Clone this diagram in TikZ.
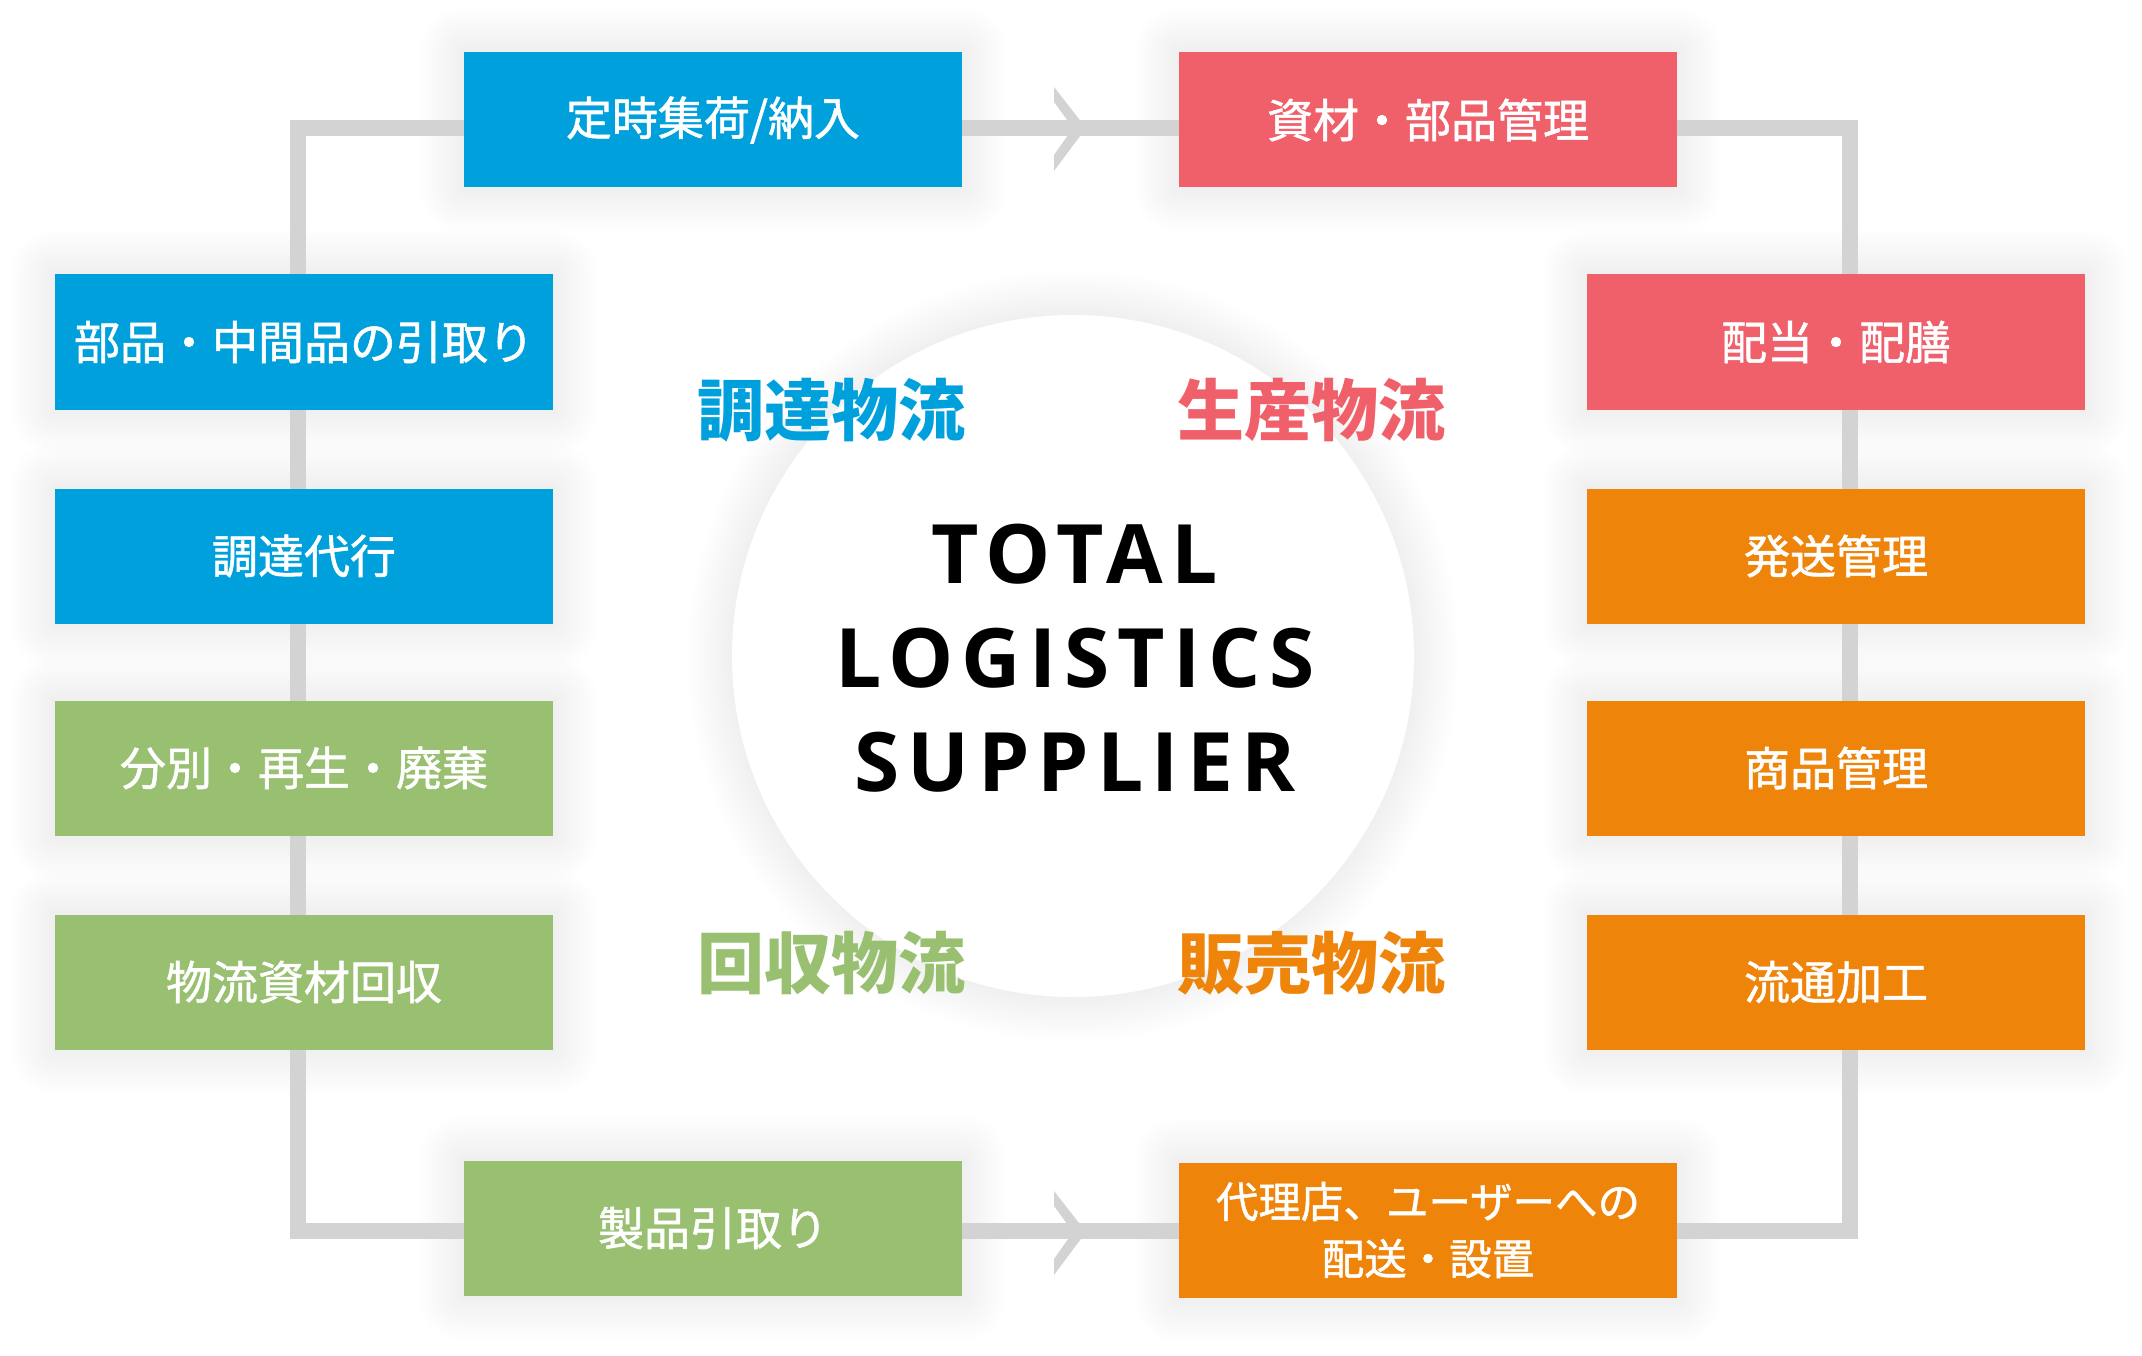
\documentclass[tikz,border=0pt]{standalone}
\usepackage{fontspec}
\usetikzlibrary{backgrounds,calc}
\newfontfamily\jp{Noto Sans CJK JP}
\newfontfamily\jpm{Noto Sans CJK JP}[FakeBold=1.2]
\newfontfamily\en{Open Sans}[LetterSpace=10]
\definecolor{cblue}{RGB}{0,160,220}
\definecolor{cred}{RGB}{240,96,106}
\definecolor{corange}{RGB}{238,132,10}
\definecolor{cgreen}{RGB}{152,192,112}
\definecolor{cline}{RGB}{211,211,211}
\tikzset{
  box/.style={rectangle, minimum width=498pt, minimum height=135pt, inner sep=0pt, text=white, align=center, font=\jpm\fontsize{46}{57}\selectfont},
  cat/.style={font=\jp\bfseries\fontsize{67}{70}\selectfont, inner sep=0pt},
  conn/.style={draw=cline, line width=16pt},
  chev/.style={fill=cline},
  halo/.style={fill=black, opacity=0.0045}
}
\begin{document}
\begin{tikzpicture}[x=1pt,y=-1pt]
\useasboundingbox (0,0) rectangle (2142,1356);
% center circle
\node[circle, fill=white, minimum size=682pt, inner sep=0pt] (hub) at (1073,656) {};
% loop corners
\coordinate (tl) at (298,128);
\coordinate (tr) at (1850,128);
\coordinate (br) at (1850,1231);
\coordinate (bl) at (298,1231);
\draw[conn] (tl) -- (tr) -- (br) -- (bl) -- cycle;
% chevrons
\fill[chev, shift={(1054,128)}] (0,-41) -- (32,0) -- (0,43) -- (0,27) -- (19,0) -- (0,-26) -- cycle;
\fill[chev, shift={(1054,1232)}] (0,-41) -- (32,0) -- (0,43) -- (0,27) -- (19,0) -- (0,-26) -- cycle;
% top row
\node[box, fill=cblue] (t1) at (713,120) {定時集荷/納入};
\node[box, fill=cred] (t2) at (1428,120) {資材・部品管理};
% left column
\node[box, fill=cblue] (l1) at (304,342) {部品・中間品の引取り};
\node[box, fill=cblue] (l2) at (304,556) {調達代行};
\node[box, fill=cgreen] (l3) at (304,768) {分別・再生・廃棄};
\node[box, fill=cgreen] (l4) at (304,982) {物流資材回収};
% right column
\node[box, fill=cred] (r1) at (1836,342) {配当・配膳};
\node[box, fill=corange] (r2) at (1836,556) {発送管理};
\node[box, fill=corange] (r3) at (1836,768) {商品管理};
\node[box, fill=corange] (r4) at (1836,982) {流通加工};
% bottom row
\node[box, fill=cgreen] (b1) at (713,1228) {製品引取り};
\node[box, fill=corange, font=\jpm\fontsize{42.5}{57}\selectfont] (b2) at (1428,1230) {代理店、ユーザーへの\\配送・設置};
% category labels
\node[cat, text=cblue] (k1) at (831,410) {調達物流};
\node[cat, text=cred] (k2) at (1311,410) {生産物流};
\node[cat, text=cgreen] (k3) at (831,963) {回収物流};
\node[cat, text=corange] (k4) at (1311,963) {販売物流};
% title
\node[font=\en\bfseries\fontsize{82}{104}\selectfont, align=center, inner sep=0pt] (title) at (1075,658) {TOTAL\\LOGISTICS\\SUPPLIER};
% soft halos
\begin{scope}[on background layer]
\fill[white] (0,0) rectangle (2142,1356);
\foreach \r in {3,6,...,45}{
  \fill[halo] (hub.center) circle[radius=341+\r];
  \foreach \n in {t1,t2,l1,l2,l3,l4,r1,r2,r3,r4,b1,b2}{
    \fill[halo, rounded corners=\r pt] ($(\n.south west)+(-\r,\r)$) rectangle ($(\n.north east)+(\r,-\r)$);
  }
}
\end{scope}
\end{tikzpicture}
\end{document}
